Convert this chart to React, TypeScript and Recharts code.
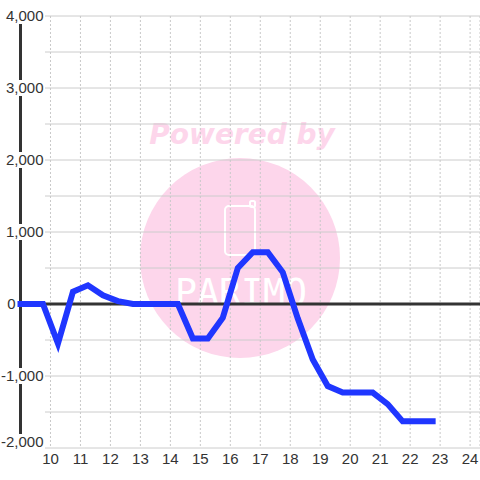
import { LineChart, Line, XAxis, YAxis, CartesianGrid, ReferenceLine } from "recharts";

// half-hourly readings, hour of day (decimal) vs value
const times = [
  9, 9.75, 10.25, 10.75, 11.25, 11.75, 12.25, 12.75, 13.25, 13.75, 14.25, 14.75, 15.25, 15.75,
  16.25, 16.75, 17.25, 17.75, 18.25, 18.75, 19.25, 19.75, 20.25, 20.75, 21.25, 21.75, 22.25, 22.75,
];
const values = [
  0, 0, -550, 170, 260, 120, 40, 0, 0, 0, 0, -480, -480, -190,
  500, 720, 720, 440, -200, -770, -1140, -1230, -1230, -1230, -1390, -1630, -1630, -1630,
];

const hourTicks = [10, 11, 12, 13, 14, 15, 16, 17, 18, 19, 20, 21, 22, 23, 24];
const valueTicks = [-2000, -1500, -1000, -500, 0, 500, 1000, 1500, 2000, 2500, 3000, 3500, 4000];

const data = times.map((t, i) => ({ t, v: values[i] }));

const fmt = (v: number) => v.toLocaleString("en-US");

function textWidth(s: string, size: number) {
  let w = 0;
  for (const c of s) w += c === "," ? 0.278 : c === "-" ? 0.333 : 0.556;
  return w * size;
}

function YTick(props: any) {
  const { x, y, payload } = props;
  const v = payload.value as number;
  if (v % 1000 !== 0) return null;
  const label = fmt(v);
  const w = textWidth(label, 15);
  // labels that don't fit left of the axis get pushed over it
  const right = w > x - 6 ? x + 23 : x - 5;
  const cy = v === -2000 ? y - 6 : y;
  return (
    <g>
      {w > x - 6 && <rect x={right - w - 2} y={cy - 8} width={w + 3} height={16} fill="#fff" />}
      <text x={right} y={cy} dy="0.36em" textAnchor="end" fontSize={15} fill="#333">
        {label}
      </text>
    </g>
  );
}

function XTick(props: any) {
  const { x, y, payload } = props;
  return (
    <text x={x} y={y} dy="0.71em" textAnchor="middle" fontSize={15} fill="#333">
      {payload.value}
    </text>
  );
}

function HLine(props: any) {
  const { x1, x2, y1, y2 } = props;
  return <line x1={x1 + 24.5} x2={x2} y1={y1} y2={y2} stroke="#cccccc" strokeWidth={1} />;
}

function Watermark() {
  return (
    <svg width={480} height={480} style={{ position: "absolute", left: 0, top: 0 }}>
      <circle cx={240} cy={258} r={100} fill="#fdd6eb" />
      <text
        x={242}
        y={144}
        textAnchor="middle"
        fontFamily="DejaVu Sans"
        fontWeight="bold"
        fontStyle="italic"
        fontSize={28}
        fill="#fdd6eb"
      >
        Powered by
      </text>
      <rect x={225} y={206} width={30} height={49} rx={4} fill="none" stroke="#fff" strokeWidth={2} />
      <rect x={250} y={201} width={5} height={6} rx={1.5} fill="none" stroke="#fff" strokeWidth={2} />
      <text
        x={241}
        y={305}
        textAnchor="middle"
        fontFamily="DejaVu Sans Mono"
        fontSize={38}
        textLength={132}
        lengthAdjust="spacingAndGlyphs"
        fill="#fff"
      >
        PARIMO
      </text>
    </svg>
  );
}

export default function App() {
  return (
    <div
      style={{
        position: "absolute",
        left: 0,
        top: 0,
        width: 480,
        height: 480,
        background: "#fff",
        fontFamily: "'Liberation Sans', Arial, sans-serif",
      }}
    >
      <Watermark />
      <div style={{ position: "absolute", left: 0, top: 0 }}>
        <LineChart width={480} height={480} data={data} margin={{ top: 16, right: 0, bottom: 0, left: 0 }}>
          <CartesianGrid vertical={false} horizontal={HLine} />
          <CartesianGrid horizontal={false} stroke="#c8c8c8" strokeDasharray="2 2" />
          <XAxis
            dataKey="t"
            type="number"
            domain={[9, 24.33]}
            ticks={hourTicks}
            axisLine={false}
            tickLine={false}
            tickSize={0}
            tickMargin={5}
            height={32}
            tick={<XTick />}
          />
          <YAxis
            type="number"
            domain={[-2000, 4000]}
            ticks={valueTicks}
            width={20.5}
            axisLine={false}
            tickLine={false}
            tickSize={0}
            tickMargin={0}
            tick={<YTick />}
          />
          <ReferenceLine x={9} stroke="#333" strokeWidth={3} />
          <ReferenceLine y={0} stroke="#333" strokeWidth={3} />
          <Line
            dataKey="v"
            type="linear"
            stroke="#1f36ff"
            strokeWidth={6}
            strokeLinecap="square"
            strokeLinejoin="miter"
            dot={false}
            activeDot={false}
            isAnimationActive={false}
          />
        </LineChart>
      </div>
    </div>
  );
}
